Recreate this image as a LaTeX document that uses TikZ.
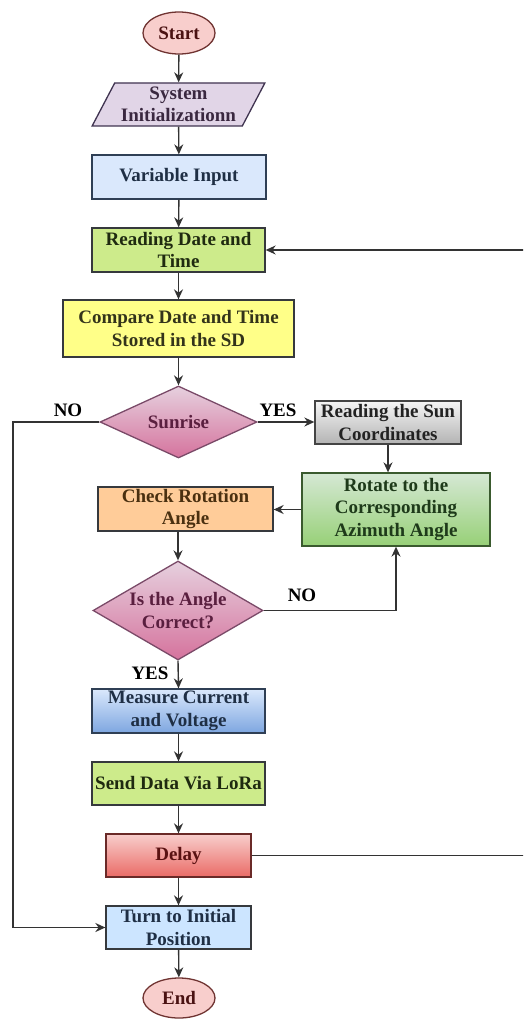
\documentclass[tikz,border=0pt]{standalone}
\usepackage{fontspec}
\setmainfont{Liberation Serif}
\usepackage{xcolor}
\usepackage{tikz}
\usetikzlibrary{arrows.meta,shapes.geometric}
\definecolor{startfill}{HTML}{F8CECC}\definecolor{startline}{HTML}{6F3331}\definecolor{starttext}{HTML}{4A1212}
\definecolor{sysfill}{HTML}{E1D5E7}\definecolor{sysline}{HTML}{3F3350}\definecolor{systext}{HTML}{3A2840}
\definecolor{varfill}{HTML}{DAE8FC}\definecolor{varline}{HTML}{2F3F55}\definecolor{vartext}{HTML}{1F2F45}
\definecolor{readfill}{HTML}{CDEB8B}\definecolor{darkline}{HTML}{36393D}\definecolor{readtext}{HTML}{1F2A10}
\definecolor{compfill}{HTML}{FFFF88}\definecolor{comptext}{HTML}{33331A}
\definecolor{decA}{HTML}{E6D0DE}\definecolor{decB}{HTML}{D5739D}\definecolor{decline}{HTML}{7A4A68}\definecolor{dectext}{HTML}{5A1F3F}
\definecolor{sunA}{HTML}{F5F5F5}\definecolor{sunB}{HTML}{B3B3B3}\definecolor{sunline}{HTML}{444444}\definecolor{suntext}{HTML}{222222}
\definecolor{rotA}{HTML}{D5E8D4}\definecolor{rotB}{HTML}{97D077}\definecolor{rotline}{HTML}{3A5A2E}\definecolor{rottext}{HTML}{1E3A1A}
\definecolor{checkfill}{HTML}{FFCC99}\definecolor{checktext}{HTML}{4A3010}
\definecolor{measA}{HTML}{DAE8FC}\definecolor{measB}{HTML}{7EA6E0}
\definecolor{delayA}{HTML}{F8CECC}\definecolor{delayB}{HTML}{EA6B66}\definecolor{delayline}{HTML}{6A2A28}\definecolor{delaytext}{HTML}{5A1212}
\definecolor{turnfill}{HTML}{CCE5FF}
\definecolor{flowline}{HTML}{333333}

\begin{document}
\begin{tikzpicture}[x=1pt,y=-1pt,>={Stealth[length=10pt,width=9pt]},
every node/.style={font=\fontsize{19}{22.5}\selectfont\bfseries},
box/.style={draw,rectangle,align=center,inner sep=0pt,line width=1.3pt},
terminal/.style={draw=startline,ellipse,inner sep=0pt,line width=1.3pt,fill=startfill,text=starttext,minimum width=72pt,minimum height=42pt},
decision/.style={draw=decline,diamond,inner xsep=-20pt,inner ysep=-10pt,align=center,line width=1.3pt,top color=decA,bottom color=decB,text=dectext},
flow/.style={->,line width=1.4pt,draw=flowline}]
\clip (0,0) rectangle (523,1019);
\node[terminal] (start) at (179,33) {Start};
\node[draw=sysline,trapezium,trapezium left angle=60,trapezium right angle=120,trapezium stretches=true,
 minimum width=173pt,minimum height=43pt,inner sep=0pt,align=center,line width=1.3pt,fill=sysfill,text=systext] (sys) at (178.5,104.5) {System\\Initializationn};
\node[box,fill=varfill,draw=varline,text=vartext,minimum width=174pt,minimum height=44pt] (var) at (179,177) {Variable Input};
\node[box,fill=readfill,draw=darkline,text=readtext,minimum width=173pt,minimum height=44pt] (read) at (178.5,250) {Reading Date and\\Time};
\node[box,fill=compfill,draw=darkline,text=comptext,minimum width=231pt,minimum height=57pt] (comp) at (178.5,328.5) {Compare Date and Time\\Stored in the SD};
\node[decision,minimum width=157pt,minimum height=72pt] (sunrise) at (178.5,422) {Sunrise};
\node[box,top color=sunA,bottom color=sunB,draw=sunline,text=suntext,minimum width=146pt,minimum height=43pt] (sun) at (388,422.5) {Reading the Sun\\Coordinates};
\node[box,top color=rotA,bottom color=rotB,draw=rotline,text=rottext,minimum width=188pt,minimum height=73pt] (rot) at (396,509.5) {Rotate to the\\Corresponding\\Azimuth Angle};
\node[box,fill=checkfill,draw=darkline,text=checktext,minimum width=175pt,minimum height=44pt] (check) at (185.5,509) {Check Rotation\\Angle};
\node[decision,minimum width=170pt,minimum height=99pt] (angle) at (178,610.5) {Is the Angle\\Correct?};
\node[box,top color=measA,bottom color=measB,draw=varline,text=vartext,minimum width=173pt,minimum height=44pt] (meas) at (178.5,711) {Measure Current\\and Voltage};
\node[box,fill=readfill,draw=darkline,text=readtext,minimum width=173pt,minimum height=43pt] (send) at (178.5,783.5) {Send Data Via LoRa};
\node[box,top color=delayA,bottom color=delayB,draw=delayline,text=delaytext,minimum width=145pt,minimum height=43pt] (delay) at (178.5,855.5) {Delay};
\node[box,fill=turnfill,draw=darkline,text=vartext,minimum width=145pt,minimum height=43pt] (turn) at (178.5,927.5) {Turn to Initial\\Position};
\node[terminal,minimum height=40pt] (stop) at (179,998) {End};
\coordinate (noleft) at (13,0);
\coordinate (back) at (535,0);
\draw[flow] (start) -- (sys);
\draw[flow] (sys) -- (var);
\draw[flow] (var) -- (read);
\draw[flow] (read) -- (comp);
\draw[flow] (comp) -- (sunrise);
\draw[flow] (sunrise.east) -- (sunrise.east -| sun.west);
\draw[flow] (sun.south) -- (sun.south |- rot.north);
\draw[flow] (rot.west) -- (rot.west -| check.east);
\draw[flow] (angle.north |- check.south) -- (angle.north);
\draw[flow] (angle.east) -| (rot.south);
\draw[flow] (angle.south) -- (meas.north);
\draw[flow] (meas) -- (send);
\draw[flow] (send) -- (delay);
\draw[flow] (delay) -- (turn);
\draw[flow] (turn) -- (stop);
\draw[flow] (sunrise.west) -- (sunrise.west -| noleft) |- (turn.west);
\draw[flow] (delay.east) -- (delay.east -| back) |- (read.east);
\node (no1) at (68,410) {NO};
\node (yes1) at (278,410) {YES};
\node (no2) at (302,595) {NO};
\node (yes2) at (150,673) {YES};
\end{tikzpicture}
\end{document}
